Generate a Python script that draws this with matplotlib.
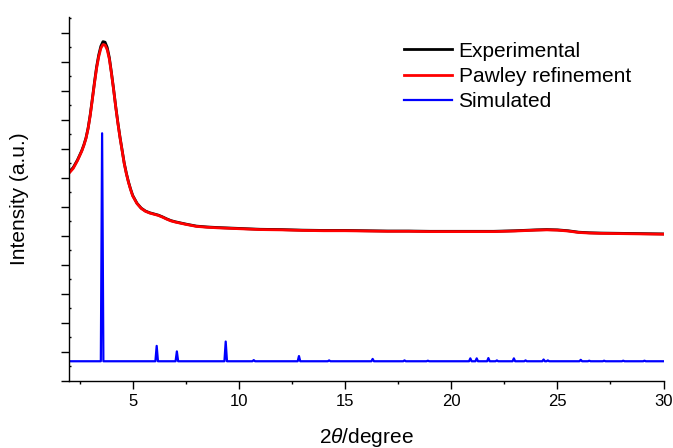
import numpy as np
import matplotlib
matplotlib.use("Agg")
import matplotlib.pyplot as plt
from matplotlib.ticker import MultipleLocator

plt.rcParams['font.family'] = ['Liberation Sans', 'DejaVu Sans']
plt.rcParams['mathtext.fontset'] = 'custom'
plt.rcParams['mathtext.rm'] = 'Liberation Sans'
plt.rcParams['mathtext.it'] = 'Liberation Sans:italic'

# experimental / Pawley curves (2theta, intensity a.u.)
two_theta = [2.0, 2.2, 2.4, 2.6, 2.7, 2.8, 2.9, 3.0, 3.1, 3.2, 3.3, 3.4, 3.5, 3.6, 3.7, 3.8, 3.9,
             4.0, 4.1, 4.2, 4.3, 4.4, 4.5, 4.6, 4.7, 4.8, 4.9, 5.0, 5.2, 5.4, 5.6,
             5.8, 6.0, 6.2, 6.4, 6.6, 6.8, 7.0, 7.5, 8.0, 8.5, 9.0, 10, 11, 12, 13,
             14, 15, 16, 17, 18, 19, 20, 21, 22, 23, 24, 24.5, 25, 25.5, 26, 26.5,
             27, 28, 29, 30]
pawley = [7.16, 7.33, 7.6, 7.92, 8.12, 8.36, 8.7, 9.15, 9.7, 10.26, 10.78, 11.18, 11.47, 11.6, 11.58, 11.42, 11.1,
          10.6, 10.05, 9.45, 8.9, 8.4, 7.95, 7.5, 7.15, 6.85, 6.6, 6.38, 6.12, 5.95, 5.85,
          5.79, 5.75, 5.71, 5.65, 5.58, 5.52, 5.48, 5.4, 5.33, 5.3, 5.28, 5.25, 5.22, 5.21, 5.19,
          5.18, 5.18, 5.17, 5.16, 5.16, 5.15, 5.15, 5.15, 5.15, 5.17, 5.2, 5.21, 5.2, 5.17, 5.12, 5.1,
          5.09, 5.08, 5.07, 5.06]
experimental = [7.2, 7.36, 7.62, 7.94, 8.14, 8.38, 8.72, 9.18, 9.73, 10.3, 10.83, 11.24, 11.54, 11.7, 11.68, 11.5, 11.15,
                10.63, 10.07, 9.47, 8.92, 8.42, 7.97, 7.52, 7.17, 6.87, 6.62, 6.4, 6.13, 5.96, 5.86,
                5.8, 5.76, 5.72, 5.66, 5.59, 5.53, 5.49, 5.41, 5.34, 5.31, 5.29, 5.26, 5.23, 5.22, 5.2,
                5.19, 5.19, 5.18, 5.17, 5.17, 5.16, 5.16, 5.16, 5.16, 5.18, 5.21, 5.22, 5.21, 5.18, 5.13, 5.11,
                5.1, 5.09, 5.08, 5.07]

# simulated pattern: baseline and peak list (position, top)
sim_base = 0.68
peak_pos = [3.56, 6.13, 7.08, 9.38, 10.7, 12.83, 14.25, 16.3, 17.8, 18.9, 20.9, 21.2,
            21.75, 22.15, 22.95, 23.5, 24.35, 24.55, 26.1, 26.5, 27.2, 28.1, 29.1]
peak_top = [8.54, 1.21, 1.02, 1.36, 0.72, 0.86, 0.71, 0.76, 0.71, 0.70, 0.78, 0.78,
            0.79, 0.71, 0.78, 0.71, 0.74, 0.71, 0.73, 0.70, 0.70, 0.70, 0.70]

sim_x = [2.0]
sim_y = [sim_base]
hw = 0.06
for p, h in zip(peak_pos, peak_top):
    sim_x += [p - hw, p, p + hw]
    sim_y += [sim_base, h, sim_base]
sim_x.append(30.0)
sim_y.append(sim_base)

fig = plt.figure(figsize=(6.73, 4.48), dpi=100)
ax = fig.add_axes([0.1025, 0.1496, 0.8835, 0.8125])

ax.plot(two_theta, experimental, color='black', lw=2.0, label='Experimental')
ax.plot(two_theta, pawley, color='red', lw=2.0, label='Pawley refinement')
ax.plot(sim_x, sim_y, color='blue', lw=1.6, label='Simulated')

ax.set_xlim(2, 30)
ax.set_ylim(0, 12.55)
ax.xaxis.set_major_locator(MultipleLocator(5))
ax.xaxis.set_minor_locator(MultipleLocator(2.5))
ax.yaxis.set_major_locator(MultipleLocator(1))
ax.yaxis.set_minor_locator(MultipleLocator(0.5))
ax.set_yticklabels([])
ax.tick_params(axis='x', which='major', direction='out', length=5.5, width=1.0, labelsize=12, pad=4)
ax.tick_params(axis='x', which='minor', direction='out', length=2.4, width=1.0)
ax.tick_params(axis='y', which='major', direction='out', length=5.5, width=1.0)
ax.tick_params(axis='y', which='minor', direction='in', length=1.5, width=1.0)

for s in ['top', 'right']:
    ax.spines[s].set_visible(False)
for s in ['left', 'bottom']:
    ax.spines[s].set_linewidth(1.0)

ax.set_xlabel('2$\\mathit{\\theta}$/degree', fontsize=15, labelpad=12)
ax.set_ylabel('Intensity (a.u.)', fontsize=15, labelpad=20)

ax.legend(loc='upper left', bbox_to_anchor=(0.55, 0.955), frameon=False, fontsize=15,
          handlelength=2.3, handletextpad=0.3, labelspacing=0.3, borderaxespad=0)

fig.savefig('out.png', dpi=100)
